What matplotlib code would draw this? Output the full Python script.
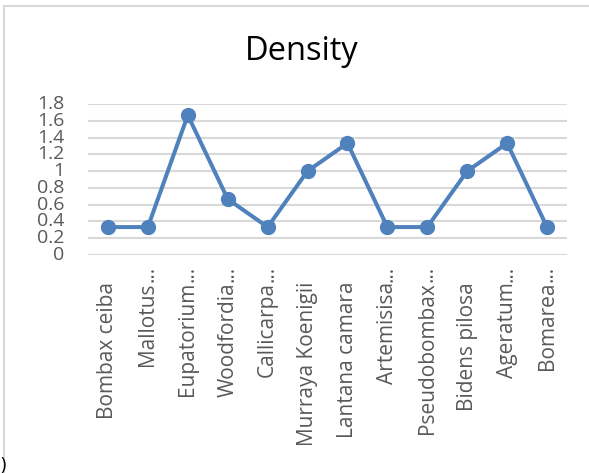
import matplotlib
matplotlib.use("Agg")
import matplotlib.pyplot as plt
from matplotlib.patches import Rectangle
from matplotlib.transforms import blended_transform_factory, offset_copy

categories = ["Bombax ceiba", "Mallotus...", "Eupatorium...", "Woodfordia...",
              "Callicarpa...", "Murraya Koenigii", "Lantana camara", "Artemisisa...",
              "Pseudobombax...", "Bidens pilosa", "Ageratum...", "Bomarea..."]
density = [0.333, 0.333, 1.667, 0.667, 0.333, 1.0, 1.333, 0.333, 0.333, 1.0, 1.333, 0.333]
yticks = [0, 0.2, 0.4, 0.6, 0.8, 1.0, 1.2, 1.4, 1.6, 1.8]
ytick_labels = ["0", "0.2", "0.4", "0.6", "0.8", "1", "1.2", "1.4", "1.6", "1.8"]

W, H = 589, 473
fig = plt.figure(figsize=(W / 100, H / 100), dpi=100)
plt.rcParams['font.family'] = ['Open Sans', 'DejaVu Sans']

# chart border
fig.patches.append(Rectangle((4 / W, -0.05), 1.1, 1 - 6 / H + 0.05, transform=fig.transFigure,
                             fill=False, edgecolor="#D9D9D9", linewidth=1.5))

left, right, top, bottom = 88, 567, 104, 255
ax = fig.add_axes([left / W, 1 - bottom / H, (right - left) / W, (bottom - top) / H])
x = list(range(len(categories)))
ax.plot(x, density, color="#4F81BD", linewidth=2.9, marker="o", markersize=10,
        solid_joinstyle="round")
ax.set_xlim(-0.5, len(categories) - 0.5)
ax.set_ylim(0, 1.8)
ax.set_yticks(yticks)
ax.set_yticklabels(ytick_labels)
ax.set_xticks(x)
ax.set_xticklabels([])
ax.tick_params(axis='y', length=0, pad=17, labelsize=14, labelcolor="#595959")
ax.tick_params(axis='x', length=0)
for t in ax.get_yticklabels():
    t.set_verticalalignment('center')
ax.grid(axis='y', color="#D9D9D9", linewidth=1.5)
ax.set_axisbelow(True)
for s in ax.spines.values():
    s.set_visible(False)

# category labels: word part starts 27px below the axis, ellipsis overflows above
trans = blended_transform_factory(ax.transData, ax.transAxes)
word_tr = offset_copy(trans, fig=fig, x=0, y=-27, units='dots')
for xi, lab in zip(x, categories):
    word = lab[:-3] if lab.endswith("...") else lab
    ax.text(xi, 0, word, transform=word_tr, rotation=90, ha='center', va='top',
            fontsize=15, color="#595959")
    if lab.endswith("..."):
        ax.text(xi, 0, "...", transform=word_tr, rotation=90, ha='center', va='bottom',
                fontsize=15, color="#595959")

fig.text(302 / W, 1 - 60 / H, "Density", ha="center", va="baseline", fontsize=23.5, color="black")
fig.text(0, 1 - 465 / H, ")", ha="left", va="center", fontsize=13, color="black")

fig.savefig("out.png", dpi=100)
